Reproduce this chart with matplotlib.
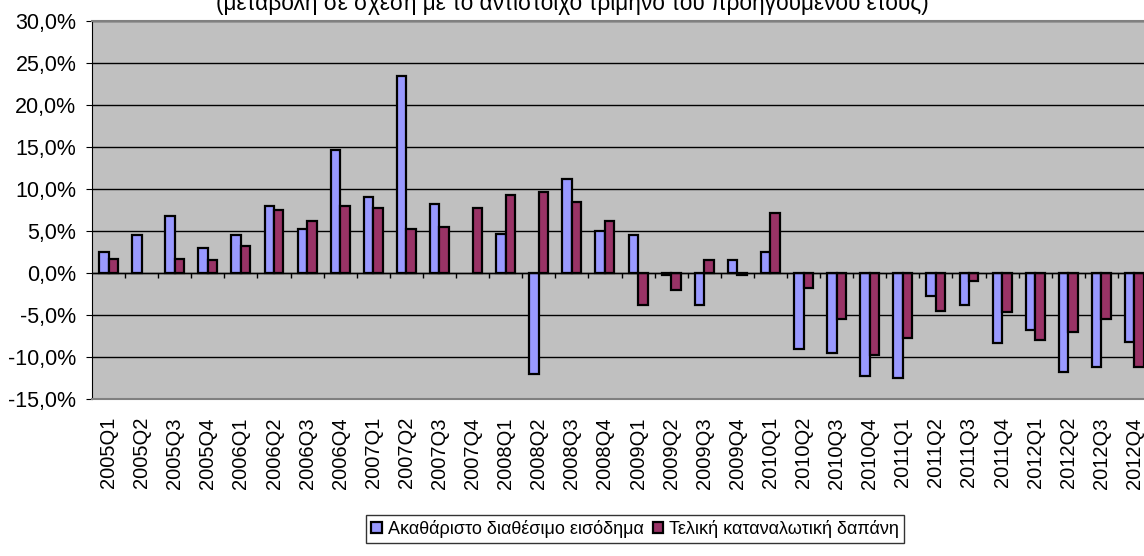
import numpy as np
import matplotlib
matplotlib.use("Agg")
import matplotlib.pyplot as plt
from matplotlib.ticker import FuncFormatter

plt.rcParams['font.family'] = ['Liberation Sans', 'DejaVu Sans']

quarters = [f"{y}Q{q}" for y in range(2005, 2013) for q in range(1, 5)]

# Ακαθάριστο διαθέσιμο εισόδημα (%), nan = no bar
income = [2.5, 4.5, 6.75, 3.0, 4.5, 8.0, 5.2, 14.7,
          9.0, 23.5, 8.25, np.nan, 4.7, -12.0, 11.2, 5.0,
          4.5, -0.2, -3.8, 1.5, 2.5, -9.0, -9.5, -12.3,
          -12.5, -2.7, -3.8, -8.3, -6.75, -11.75, -11.2, -8.25]
# Τελική καταναλωτική δαπάνη (%)
spending = [1.7, np.nan, 1.7, 1.5, 3.25, 7.5, 6.2, 8.0,
            7.7, 5.25, 5.5, 7.7, 9.25, 9.7, 8.5, 6.2,
            -3.8, -2.0, 1.5, -0.2, 7.2, -1.8, -5.5, -9.8,
            -7.7, -4.5, -0.95, -4.7, -8.0, -7.0, -5.5, -11.2]

W, H = 1144, 556
fig = plt.figure(figsize=(W / 100, H / 100), dpi=100)
ax = fig.add_axes([92 / W, (H - 399) / H, (1151 - 92) / W, (399 - 21) / H])

x = np.arange(len(quarters))
bw = 1 / 3.5
ax.bar(x - bw / 2, income, bw, color='#9999FF', edgecolor='black', linewidth=1.6,
       label='Ακαθάριστο διαθέσιμο εισόδημα', zorder=3)
ax.bar(x + bw / 2, spending, bw, color='#993366', edgecolor='black', linewidth=1.6,
       label='Τελική καταναλωτική δαπάνη', zorder=3)

ax.set_facecolor('#C0C0C0')
ax.set_xlim(-0.5, len(quarters) - 0.5)
ax.set_ylim(-15, 30)
ax.set_yticks(np.arange(-15, 31, 5))
ax.yaxis.set_major_formatter(FuncFormatter(lambda v, p: f"{v:.1f}%".replace('.', ',')))
ax.grid(axis='y', color='black', linewidth=1, zorder=1)
ax.axhline(0, color='black', linewidth=1, zorder=4)
ax.vlines(x[:-1] + 0.5, -0.6, 0, color='black', linewidth=1, zorder=4)

ax.set_xticks(x)
ax.set_xticklabels(quarters, rotation=90, fontsize=14.5)
ax.tick_params(axis='x', length=0, pad=13)
ax.tick_params(axis='y', labelsize=15.5, length=4.3, color='black', pad=7)

for s in ['top', 'bottom']:
    ax.spines[s].set_color('#808080')
    ax.spines[s].set_linewidth(1.5)
ax.spines['left'].set_color('black')
ax.spines['right'].set_visible(False)

fig.text(0.5, 1 - 10 / H, "(μεταβολή σε σχέση με το αντίστοιχο τρίμηνο του προηγούμενου έτους)",
         ha='center', va='baseline', fontsize=16.3)

leg = fig.legend(loc='center', bbox_to_anchor=(635 / W, 1 - 529 / H), ncol=2,
                 fontsize=13, frameon=True, fancybox=False, handlelength=0.6,
                 handleheight=0.6, handletextpad=0.3, columnspacing=0.5,
                 borderpad=0.3)
leg.get_frame().set_edgecolor('black')
leg.get_frame().set_linewidth(1)

fig.savefig('out.png', dpi=100)
